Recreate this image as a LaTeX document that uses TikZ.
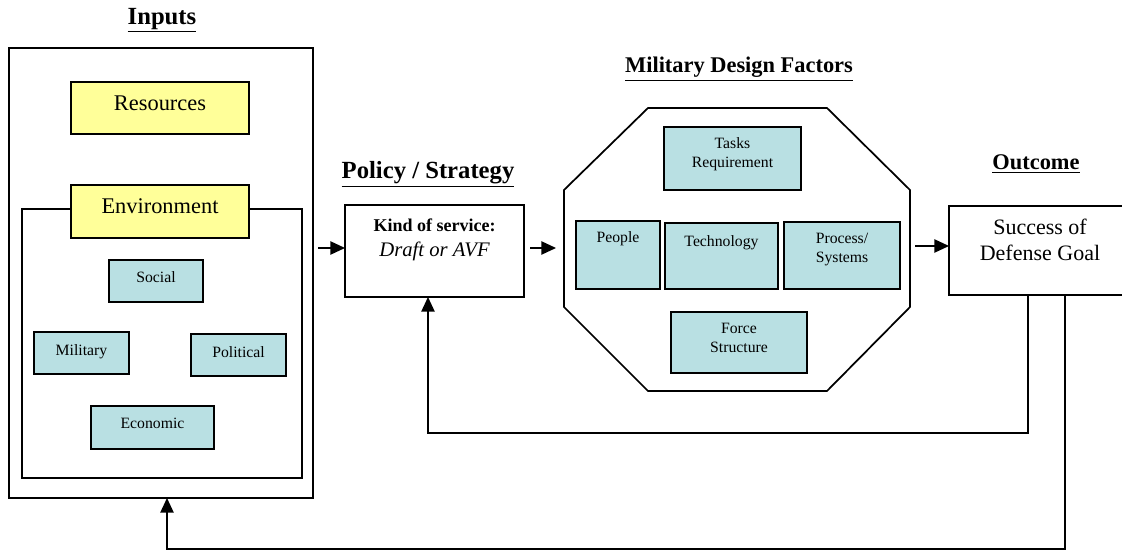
\documentclass[tikz,border=0pt]{standalone}
\usepackage{fontspec}
\setmainfont{Liberation Serif}
\usetikzlibrary{arrows.meta,fit}
\definecolor{paleyellow}{HTML}{FFFF99}
\definecolor{paleteal}{HTML}{B9E0E3}
\begin{document}
\begin{tikzpicture}[x=0.75pt,y=-0.75pt,line width=1.2pt,
  frame/.style={draw,inner sep=0pt,outer sep=0pt},
  factor/.style={frame,fill=paleteal},
  inputbox/.style={frame,fill=paleyellow},
  head/.style={anchor=base,font=\fontsize{18.5}{22}\selectfont\bfseries},
  subhead/.style={anchor=base,font=\fontsize{16.8}{20}\selectfont\bfseries},
  big/.style={anchor=base,font=\fontsize{16.8}{20}\selectfont},
  small/.style={anchor=base,font=\fontsize{11.8}{14}\selectfont},
  arr/.style={-{Triangle[length=11pt,width=10pt]},line width=1.1pt}]
\useasboundingbox (0,0) rectangle (1122,552);

% ---- Inputs ----
\node[head] (tin) at (162,24.5) {\underline{Inputs}};
\node[frame,fit={(9,48) (313,498)}] (inputs) {};
\node[frame,fit={(22,209) (302,478)}] (env) {};
\node[inputbox,fit={(71,82) (249,134)}] (res) {};
\node[big] (tres) at (160,111) {Resources};
\node[inputbox,fit={(71,185) (249,238)}] (envbox) {};
\node[big] (tenv) at (160,214) {Environment};
\node[factor,fit={(109,260) (203,302)}] (soc) {};
\node[small] (tsoc) at (156,283) {Social};
\node[factor,fit={(34,332) (129,374)}] (mil) {};
\node[small] (tmil) at (81.5,356) {Military};
\node[factor,fit={(191,334) (286,376)}] (pol) {};
\node[small] (tpol) at (238.5,358) {Political};
\node[factor,fit={(91,406) (214,449)}] (eco) {};
\node[small] (teco) at (152.5,429) {Economic};

% ---- Policy / Strategy ----
\node[head] (tpolicy) at (428,179) {\underline{Policy / Strategy}};
\node[frame,fit={(345,205) (524,297)}] (policy) {};
\node[anchor=base,font=\fontsize{13.5}{16}\selectfont\bfseries] (tkind) at (434.5,232) {Kind of service:};
\node[anchor=base,font=\fontsize{15.5}{18}\selectfont\itshape] (tdraft) at (434.5,257) {Draft or AVF};

% ---- Military Design Factors ----
\node[subhead] (tmdf) at (739,73) {\underline{Military Design Factors}};
\draw[line width=1.3pt] (648,108) -- (827,108) -- (910,190) -- (910,307)
  -- (827,391) -- (648,391) -- (564,307) -- (564,190) -- cycle;
\coordinate (octW) at (564,248);
\coordinate (octE) at (910,246);
\node[factor,fit={(664,127) (801,190)}] (tasks) {};
\node[small] (ttasks) at (732.5,149) {Tasks};
\node[small] (treq) at (732.5,168) {Requirement};
\node[factor,fit={(576,221) (660,289)}] (people) {};
\node[small] (tpeople) at (618,243) {People};
\node[factor,fit={(665,223) (778,289)}] (tech) {};
\node[small] (ttech) at (721.5,247) {Technology};
\node[factor,fit={(784,222) (900,289)}] (proc) {};
\node[small] (tproc) at (842,244) {Process/};
\node[small] (tsys) at (842,263) {Systems};
\node[factor,fit={(671,312) (807,373)}] (force) {};
\node[small] (tforce) at (739,334) {Force};
\node[small] (tstruct) at (739,353) {Structure};

% ---- Outcome ----
\node[subhead] (tout) at (1036,170) {\underline{Outcome}};
\node[frame,fit={(949,206) (1126,295)}] (outcome) {};
\node[big,font=\fontsize{16.5}{20}\selectfont] (tsucc) at (1040,235) {Success of};
\node[big,font=\fontsize{16.5}{20}\selectfont] (tgoal) at (1040,261) {Defense Goal};

% ---- forward flow ----
\draw[arr] (inputs.east |- 0,248) ++(5,0) coordinate (a1) -- (policy.west |- a1);
\draw[arr] (policy.east |- 0,248) ++(6,0) coordinate (a2) -- ([xshift=-6pt]octW |- a2);
\draw[arr] (octE) ++(5,0) coordinate (a3) -- (outcome.west |- a3);

% ---- feedback loops ----
\coordinate (fb1) at (1028,433);
\coordinate (fb2) at (1065,549);
\draw[arr] (fb1 |- outcome.south) -- (fb1) -- (428,433) -- (428,297);
\draw[arr] (fb2 |- outcome.south) -- (fb2) -- (167,549) -- (167,498);
\end{tikzpicture}
\end{document}
